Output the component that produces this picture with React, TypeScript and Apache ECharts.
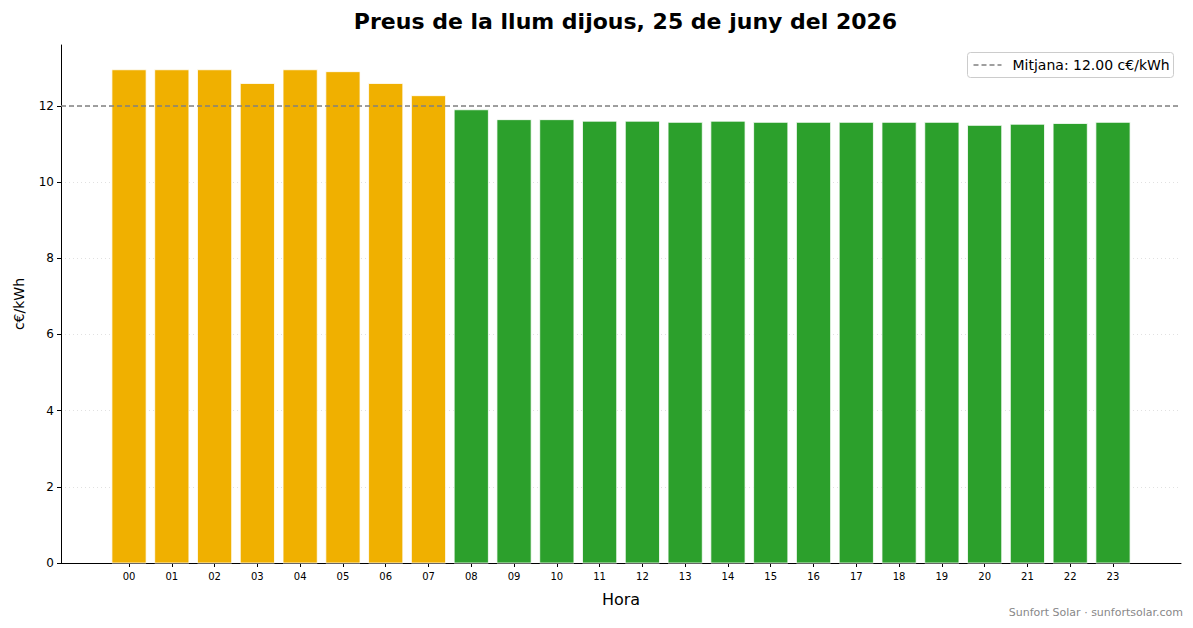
import React, { useEffect, useRef } from "react";
import * as echarts from "echarts";

const HOURS = ["00","01","02","03","04","05","06","07","08","09","10","11","12","13","14","15","16","17","18","19","20","21","22","23"];
const PRICES = [12.95,12.95,12.95,12.59,12.95,12.90,12.59,12.27,11.90,11.64,11.64,11.60,11.60,11.57,11.60,11.57,11.57,11.57,11.57,11.57,11.49,11.52,11.54,11.57];
const MEAN = 12.0;
const Y_TICKS = [0, 2, 4, 6, 8, 10, 12];
const TITLE = "Preus de la llum dijous, 25 de juny del 2026";
const LEGEND_LABEL = "Mitjana: 12.00 c€/kWh";
const WATERMARK = "Sunfort Solar · sunfortsolar.com";
const COLOR_HIGH = "#f0b000";
const COLOR_LOW = "#2ca02c";

const FONT = "DejaVu Sans";

export default function App() {
  const ref = useRef<HTMLDivElement>(null);
  useEffect(() => {
    if (!ref.current) return;
    const chart = echarts.init(ref.current, null, { renderer: "svg" });
    const idx = HOURS.map((_, i) => i);
    const xMin = -1.59;
    const xMax = 24.59;
    chart.setOption({
      animation: false,
      textStyle: { fontFamily: FONT },
      title: {
        text: TITLE,
        left: 620.5,
        textAlign: "center",
        top: 5,
        textStyle: { fontFamily: FONT, fontSize: 22, fontWeight: "bold", color: "#000" },
      },
      grid: { left: 61, right: 12, top: 45, bottom: 65 },
      xAxis: {
        type: "value",
        min: xMin,
        max: xMax,
        name: "Hora",
        nameLocation: "middle",
        nameGap: 28,
        nameTextStyle: { fontFamily: FONT, fontSize: 16, color: "#000" },
        axisLine: { show: true, onZero: false, lineStyle: { color: "#000", width: 1 } },
        axisTick: { show: true, customValues: idx, length: 4, lineStyle: { color: "#000" } },
        axisLabel: {
          customValues: idx,
          formatter: (v: number) => HOURS[Math.round(v)] ?? "",
          fontFamily: FONT,
          fontSize: 10,
          color: "#000",
          margin: 8,
        },
        splitLine: { show: false },
      },
      yAxis: {
        type: "value",
        min: 0,
        max: 13.6,
        interval: 2,
        name: "c€/kWh",
        nameLocation: "middle",
        nameGap: 35,
        nameTextStyle: { fontFamily: FONT, fontSize: 14, color: "#000" },
        axisLine: { show: true, onZero: false, lineStyle: { color: "#000", width: 1 } },
        axisTick: { show: true, customValues: Y_TICKS, length: 4, lineStyle: { color: "#000" } },
        axisLabel: {
          customValues: Y_TICKS,
          fontFamily: FONT,
          fontSize: 12,
          color: "#000",
          margin: 7,
        },
        splitLine: { show: true, lineStyle: { color: "#d9d9d9", type: [1, 3], width: 0.8 } },
      },
      series: [
        {
          type: "custom",
          data: PRICES.map((v, i) => [i, v]),
          encode: { x: 0, y: 1 },
          renderItem: (params: any, api: any) => {
            const i = api.value(0);
            const v = api.value(1);
            const top = api.coord([i, v]);
            const base = api.coord([i, 0]);
            const w = api.size([0.8, 0])[0];
            return {
              type: "rect",
              shape: { x: top[0] - w / 2, y: top[1], width: w, height: base[1] - top[1] },
              style: {
                fill: v > MEAN ? COLOR_HIGH : COLOR_LOW,
                stroke: "#ffffff",
                lineWidth: 0.8,
              },
            };
          },
          z: 2,
        },
        {
          type: "line",
          name: LEGEND_LABEL,
          symbol: "none",
          data: [[xMin, MEAN], [xMax, MEAN]],
          lineStyle: { color: "#808080", width: 1.5, type: [5, 3] },
          itemStyle: { color: "#808080" },
          z: 3,
        },
      ],
      graphic: [
        {
          type: "group",
          left: 967,
          top: 52,
          children: [
            {
              type: "rect",
              shape: { x: 0, y: 0, width: 206, height: 25, r: 3 },
              style: { fill: "rgba(255,255,255,0.8)", stroke: "#cccccc", lineWidth: 1 },
            },
            {
              type: "line",
              shape: { x1: 6, y1: 12.5, x2: 34, y2: 12.5 },
              style: { stroke: "#808080", lineWidth: 1.5, lineDash: [5, 3] },
            },
            {
              type: "text",
              x: 45,
              y: 12.5,
              style: {
                text: LEGEND_LABEL,
                fontFamily: FONT,
                fontSize: 14,
                fill: "#000",
                verticalAlign: "middle",
              },
            },
          ],
          z: 10,
        },
        {
          type: "text",
          right: 10,
          top: 607,
          style: { text: WATERMARK, fontFamily: FONT, fontSize: 11, fill: "#888888" },
        },
      ],
    });
    return () => chart.dispose();
  }, []);
  return (
    <div
      ref={ref}
      style={{ position: "fixed", left: 0, top: 0, width: 1193, height: 628, background: "#fff" }}
    />
  );
}
